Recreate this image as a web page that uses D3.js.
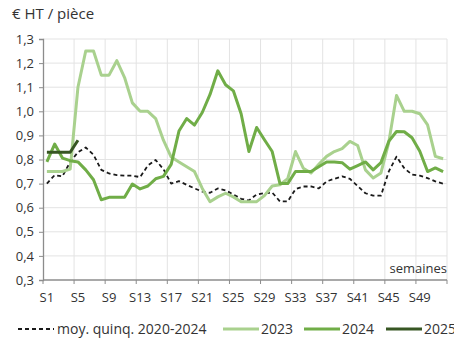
<!DOCTYPE html>
<html>
<head>
<meta charset="utf-8">
<script src="https://cdn.jsdelivr.net/npm/d3@7"></script>
<style>
  body { margin: 0; background: #fff; }
  text { font-family: "Open Sans", sans-serif; fill: #333; }
</style>
</head>
<body>
<div id="chart"></div>
<script>
const weeks = d3.range(1, 53).map(i => `S${i}`);

const avg2020_2024 = [
  0.70, 0.735, 0.73, 0.79, 0.83, 0.85, 0.82, 0.757, 0.742, 0.735,
  0.733, 0.733, 0.727, 0.775, 0.798, 0.76, 0.70, 0.71, 0.695, 0.68,
  0.667, 0.662, 0.68, 0.672, 0.655, 0.637, 0.63, 0.655, 0.66, 0.663,
  0.626, 0.626, 0.677, 0.688, 0.688, 0.68, 0.709, 0.72, 0.73, 0.72,
  0.69, 0.66, 0.65, 0.65, 0.75, 0.812, 0.764, 0.737, 0.733, 0.723,
  0.709, 0.70,
];

const values2023 = [
  0.75, 0.75, 0.75, 0.76, 1.10, 1.25, 1.25, 1.15, 1.15, 1.21,
  1.14, 1.035, 1.0, 1.0, 0.97, 0.88, 0.81, 0.79, 0.77, 0.75,
  0.68, 0.625, 0.645, 0.66, 0.645, 0.625, 0.625, 0.625, 0.65, 0.69,
  0.695, 0.72, 0.833, 0.764, 0.744, 0.78, 0.813, 0.833, 0.845, 0.875,
  0.858, 0.757, 0.723, 0.744, 0.87, 1.066, 1.0, 1.0, 0.99, 0.944,
  0.813, 0.803,
];

const values2024 = [
  0.79, 0.864, 0.806, 0.795, 0.79, 0.757, 0.716, 0.633, 0.643, 0.643,
  0.643, 0.698, 0.678, 0.69, 0.72, 0.73, 0.78, 0.918, 0.97, 0.943,
  0.995, 1.07, 1.168, 1.11, 1.085, 0.99, 0.833, 0.933, 0.882, 0.833,
  0.70, 0.70, 0.75, 0.75, 0.75, 0.77, 0.79, 0.79, 0.787, 0.76,
  0.775, 0.79, 0.757, 0.787, 0.875, 0.916, 0.915, 0.89, 0.834, 0.75,
  0.765, 0.75,
];

const values2025 = [0.83, 0.83, 0.83, 0.83, 0.88];

const yTicks = [0.3, 0.4, 0.5, 0.6, 0.7, 0.8, 0.9, 1.0, 1.1, 1.2, 1.3];

const series = [
  { name: 'moy. quinq. 2020-2024', values: avg2020_2024, color: '#1a1a1a', width: 1.8, dash: '4,3' },
  { name: '2023', values: values2023, color: '#a9d18e', width: 3, dash: null },
  { name: '2024', values: values2024, color: '#70ad47', width: 3, dash: null },
  { name: '2025', values: values2025, color: '#375623', width: 3, dash: null },
];

const width = 454;
const height = 340;
const margin = { top: 39, right: 7, bottom: 60, left: 43 };
const innerWidth = width - margin.left - margin.right;
const innerHeight = height - margin.top - margin.bottom;

const svg = d3.select('#chart')
  .append('svg')
  .attr('width', width)
  .attr('height', height);

svg.append('text')
  .attr('x', 12)
  .attr('y', 19)
  .style('font-size', '15px')
  .text('€ HT / pièce');

const g = svg.append('g')
  .attr('transform', `translate(${margin.left}, ${margin.top})`);

const x = d3.scaleBand()
  .domain(weeks)
  .range([0, innerWidth])
  .paddingInner(0)
  .paddingOuter(0);

const y = d3.scaleLinear()
  .domain([0.3, 1.3])
  .range([innerHeight, 0]);

const fmt = d3.format('.1f');
const comma = v => fmt(v).replace('.', ',');

// boundaries every 4 weeks
const boundaries = d3.range(0, 53, 4).map(i => i * x.bandwidth());

// grid
g.append('g')
  .selectAll('line')
  .data(yTicks.slice(1))
  .join('line')
  .attr('x1', 0)
  .attr('x2', innerWidth)
  .attr('y1', d => y(d))
  .attr('y2', d => y(d))
  .attr('stroke', '#e3e3e3')
  .attr('stroke-width', 1);

g.append('g')
  .selectAll('line')
  .data(boundaries.slice(1))
  .join('line')
  .attr('x1', d => d)
  .attr('x2', d => d)
  .attr('y1', 0)
  .attr('y2', innerHeight)
  .attr('stroke', '#e3e3e3')
  .attr('stroke-width', 1);

// y axis
const yAxis = d3.axisLeft(y)
  .tickValues(yTicks)
  .tickFormat(comma)
  .tickSize(4)
  .tickPadding(5);

const yAxisG = g.append('g').call(yAxis);
yAxisG.select('.domain').attr('stroke', '#8c8c8c').attr('stroke-width', 1.3);
yAxisG.selectAll('.tick line').attr('stroke', '#8c8c8c');
yAxisG.selectAll('.tick text')
  .style('font-family', '"Open Sans", sans-serif')
  .style('font-size', '13px')
  .attr('fill', '#333');

// x axis
const xAxisG = g.append('g')
  .attr('transform', `translate(0, ${innerHeight})`);

xAxisG.append('line')
  .attr('x1', 0)
  .attr('x2', innerWidth)
  .attr('stroke', '#8c8c8c')
  .attr('stroke-width', 1.3);

xAxisG.selectAll('.xtick')
  .data(boundaries)
  .join('line')
  .attr('class', 'xtick')
  .attr('x1', d => d)
  .attr('x2', d => d)
  .attr('y1', 0)
  .attr('y2', 4)
  .attr('stroke', '#8c8c8c');

xAxisG.selectAll('.xlabel')
  .data(weeks.filter((d, i) => i % 4 === 0))
  .join('text')
  .attr('class', 'xlabel')
  .attr('x', d => x(d) + x.bandwidth() / 2)
  .attr('y', 22)
  .attr('text-anchor', 'middle')
  .style('font-size', '13px')
  .text(d => d);

g.append('text')
  .attr('x', innerWidth)
  .attr('y', innerHeight - 7)
  .attr('text-anchor', 'end')
  .style('font-size', '13px')
  .text('semaines');

// lines
const line = d3.line()
  .x((d, i) => x(weeks[i]) + x.bandwidth() / 2)
  .y(d => y(d));

g.selectAll('.series')
  .data(series)
  .join('path')
  .attr('class', 'series')
  .attr('d', d => line(d.values))
  .attr('fill', 'none')
  .attr('stroke', d => d.color)
  .attr('stroke-width', d => d.width)
  .attr('stroke-dasharray', d => d.dash)
  .attr('stroke-linejoin', 'round');

// legend
const legendX = [18, 223, 304, 386];
const legend = svg.append('g')
  .attr('transform', 'translate(0, 329)');

const items = legend.selectAll('g')
  .data(series)
  .join('g')
  .attr('transform', (d, i) => `translate(${legendX[i]}, 0)`);

items.append('line')
  .attr('x1', 0)
  .attr('x2', 36)
  .attr('stroke', d => d.color)
  .attr('stroke-width', d => d.width)
  .attr('stroke-dasharray', d => d.dash);

items.append('text')
  .attr('x', (d, i) => (i === 0 ? 39 : 38))
  .attr('y', 5)
  .style('font-size', '14px')
  .text(d => d.name);
</script>
</body>
</html>
